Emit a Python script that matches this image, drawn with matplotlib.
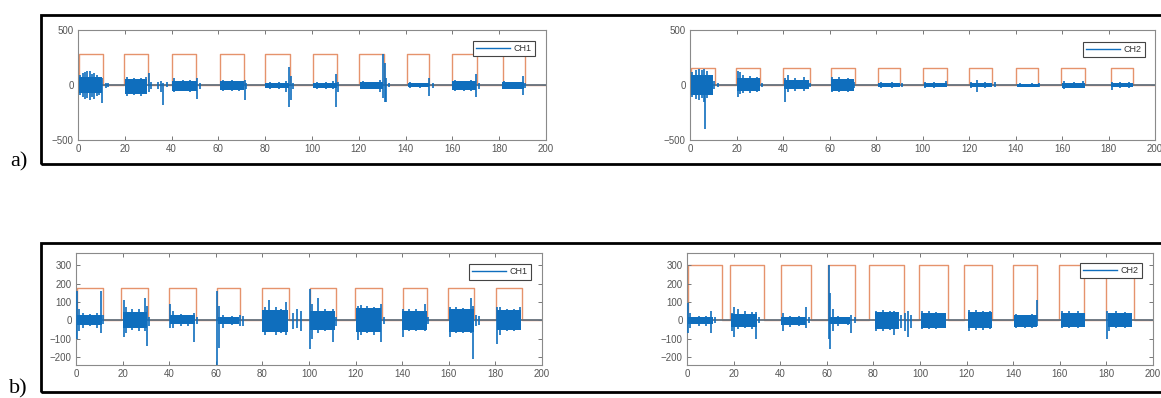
import matplotlib
matplotlib.use("Agg")
import matplotlib.pyplot as plt
from matplotlib.lines import Line2D
from matplotlib.patches import Rectangle

# ---------------- data ----------------
# a) CH1
a1_pulse_on = [0.5, 19.8, 40.0, 60.5, 80.0, 100.4, 120.2, 140.4, 160.0, 181.5]
a1_pulse_off = [10.5, 30.0, 50.3, 70.8, 90.4, 110.7, 130.6, 150.0, 170.3, 191.0]
a1_pulse_height = 280
a1_burst_start = [0.3, 20.0, 40.0, 60.5, 80.0, 100.5, 120.5, 141.0, 160.0, 181.0]
a1_burst_end = [10.3, 29.5, 51.0, 71.0, 90.0, 110.5, 130.5, 150.0, 170.0, 190.5]
a1_burst_hi = [70, 55, 40, 35, 22, 22, 25, 18, 35, 28]
a1_burst_lo = [-75, -80, -50, -45, -30, -30, -35, -22, -45, -35]
a1_spike_x = [1, 2, 3, 4, 5, 6, 7, 8, 9, 10.3, 12, 13,
              21, 24, 27, 29, 30.3, 31, 34, 35.5, 36.5, 38,
              41, 45, 48, 50.8, 52,
              62, 66, 69, 71.2, 72,
              82, 86, 89, 90.3, 91, 92,
              102, 106, 109, 110.3, 111.2,
              122, 126, 129, 130.3, 131, 131.8, 133,
              142, 146, 150, 151.5,
              161, 165, 168, 170.2, 171.5,
              182, 186, 190.2, 191.2]
a1_spike_hi = [90, 110, 120, 130, 125, 100, 110, 90, 70, 60, 20, 15,
               70, 60, 60, 70, 110, 30, 30, 40, 20, 25,
               60, 50, 50, 60, 20,
               50, 45, 40, 50, 20,
               30, 30, 40, 160, 80, 20,
               30, 25, 40, 100, 30,
               35, 30, 50, 280, 200, 60, 20,
               25, 20, 60, 20,
               45, 40, 45, 100, 20,
               35, 30, 80, 20]
a1_spike_lo = [-90, -110, -130, -120, -140, -110, -130, -100, -90, -160, -30, -15,
               -100, -90, -100, -80, -60, -40, -40, -60, -180, -20,
               -60, -55, -60, -130, -40,
               -50, -55, -50, -140, -40,
               -40, -35, -60, -200, -140, -40,
               -40, -35, -40, -200, -60,
               -40, -40, -60, -120, -150, -150, -20,
               -30, -25, -100, -30,
               -55, -50, -50, -110, -40,
               -40, -40, -90, -30]

# a) CH2
a2_pulse_on = [0.5, 19.9, 40.2, 60.6, 80.9, 100.3, 120.0, 140.4, 159.5, 181.0]
a2_pulse_off = [10.8, 30.2, 51.4, 70.9, 90.3, 110.7, 130.0, 149.6, 169.8, 190.5]
a2_pulse_height = 155
a2_burst_start = [0.3, 20.0, 40.5, 60.5, 81.0, 100.5, 120.5, 140.5, 160.0, 181.0]
a2_burst_end = [10.0, 30.0, 51.0, 70.5, 90.5, 110.5, 130.0, 150.0, 170.0, 190.5]
a2_burst_hi = [95, 65, 45, 55, 16, 18, 18, 11, 22, 18]
a2_burst_lo = [-95, -55, -40, -50, -18, -20, -22, -14, -25, -22]
a2_spike_x = [1, 2.5, 4, 5, 6, 6.6, 7.5, 9, 10.5, 12,
              20.5, 21.5, 23, 26, 29, 31,
              41, 42, 45, 49, 51.5,
              61, 64, 68, 70.5,
              82, 87, 91,
              101, 105, 110,
              121, 123.5, 127, 131,
              142, 147, 150,
              161, 165, 169,
              181.5, 185, 189]
a2_spike_hi = [120, 140, 150, 140, 150, 60, 130, 90, 40, 20,
               130, 120, 90, 80, 70, 20,
               60, 90, 60, 70, 20,
               70, 70, 65, 30,
               25, 25, 15,
               30, 25, 35,
               30, 50, 25, 30,
               18, 15, 20,
               35, 30, 35,
               30, 25, 25]
a2_spike_lo = [-110, -130, -140, -120, -150, -400, -120, -80, -40, -20,
               -110, -80, -70, -70, -60, -15,
               -150, -60, -50, -50, -20,
               -60, -65, -60, -30,
               -25, -25, -15,
               -30, -25, -20,
               -30, -60, -25, -15,
               -20, -18, -20,
               -35, -30, -30,
               -45, -25, -25]

# b) CH1
b1_pulse_on = [0.3, 19.5, 40.0, 60.6, 80.0, 100.5, 119.8, 140.2, 159.8, 180.2]
b1_pulse_off = [11.6, 31.0, 51.6, 70.2, 91.3, 111.6, 131.3, 150.6, 171.0, 191.6]
b1_pulse_height = 178
b1_burst_start = [0.5, 20.0, 40.5, 61.0, 80.0, 100.5, 120.0, 140.0, 160.0, 180.5]
b1_burst_end = [11.0, 30.5, 51.0, 70.0, 91.0, 111.0, 131.0, 150.5, 171.0, 191.0]
b1_burst_hi = [28, 45, 28, 18, 55, 50, 65, 50, 60, 55]
b1_burst_lo = [-28, -45, -22, -18, -65, -55, -65, -55, -65, -55]
b1_spike_x = [0.4, 1.2, 3, 6, 9, 10.7, 11.5,
              20.5, 21.5, 24, 27, 29.5, 30.3, 31.5,
              40.5, 41.5, 45, 48, 50.5, 52,
              60.5, 61.2, 63, 67, 70.5, 71.5,
              81, 83, 86, 88, 90.3, 93, 95, 96.5,
              100.3, 101.5, 104, 107, 110.3, 111.5,
              121, 122.5, 125, 128, 130.8, 132,
              140.5, 143, 146, 149.8, 151,
              160.5, 163, 166, 169.5, 170.4, 171.5, 173,
              180.5, 182, 185, 188, 190.5]
b1_spike_hi = [160, 60, 40, 35, 40, 160, 30,
               110, 70, 60, 60, 120, 80, 20,
               90, 50, 35, 30, 40, 15,
               160, 80, 30, 25, 30, 25,
               70, 110, 70, 60, 100, 40, 60, 50,
               170, 90, 120, 60, 60, 20,
               80, 85, 80, 70, 90, 20,
               60, 60, 60, 90, 20,
               70, 70, 65, 120, 80, 30, 25,
               70, 70, 60, 60, 70]
b1_spike_lo = [-100, -60, -40, -30, -40, -70, -20,
               -90, -70, -55, -60, -60, -140, -30,
               -40, -40, -30, -30, -120, -20,
               -245, -150, -40, -25, -30, -30,
               -80, -60, -80, -70, -80, -50, -40, -60,
               -160, -100, -70, -60, -120, -30,
               -110, -80, -70, -80, -120, -20,
               -90, -60, -60, -60, -20,
               -90, -70, -70, -70, -210, -30, -25,
               -130, -80, -60, -60, -40]

# b) CH2
b2_pulse_on = [0.3, 18.6, 40.2, 60.6, 78.0, 99.4, 119.0, 140.0, 159.6, 179.8]
b2_pulse_off = [15.2, 33.0, 53.2, 72.0, 93.3, 111.9, 130.9, 150.4, 170.6, 192.0]
b2_pulse_height = 300
b2_burst_start = [0.3, 19.0, 40.5, 61.0, 80.5, 100.5, 120.5, 140.5, 160.5, 180.5]
b2_burst_end = [11.0, 30.0, 51.0, 70.0, 91.0, 111.0, 131.0, 150.0, 171.0, 191.0]
b2_burst_hi = [18, 35, 18, 18, 45, 40, 45, 28, 40, 40]
b2_burst_lo = [-22, -35, -25, -22, -50, -40, -45, -35, -35, -35]
b2_spike_x = [0.4, 1.5, 5, 8, 10.5, 12,
              19.5, 20.3, 22, 25, 28, 29.5, 31,
              41, 44, 48, 51, 52.5,
              60.8, 61.3, 62.5, 65, 69, 70.3, 72,
              81, 84, 87, 89, 92, 93.5, 95, 96,
              101, 104, 107, 110,
              121, 124, 127, 130,
              141, 145, 148, 150.3,
              161, 164, 168, 170,
              180.2, 181, 184, 188, 190.5]
b2_spike_hi = [95, 40, 25, 25, 50, 15,
               40, 70, 60, 50, 45, 45, 15,
               40, 25, 25, 70, 15,
               300, 150, 60, 25, 20, 30, 15,
               50, 55, 50, 50, 30, 40, 50, 30,
               50, 50, 45, 40,
               55, 55, 50, 50,
               35, 30, 35, 110,
               50, 50, 50, 40,
               50, 40, 50, 45, 40]
b2_spike_lo = [-70, -40, -30, -30, -70, -15,
               -60, -90, -50, -45, -50, -100, -15,
               -60, -35, -30, -40, -15,
               -100, -160, -60, -30, -25, -70, -15,
               -60, -60, -55, -80, -40, -60, -90, -40,
               -50, -50, -50, -45,
               -60, -55, -55, -50,
               -40, -40, -40, -30,
               -45, -45, -45, -35,
               -105, -60, -40, -40, -30]

x_ticks = [0, 20, 40, 60, 80, 100, 120, 140, 160, 180, 200]
a_y_ticks = [-500, 0, 500]
b_y_ticks = [-200, -100, 0, 100, 200, 300]
a_ylim = (-500, 500)
b_ylim = (-245, 368)
x_lim = (0, 200)

panels = [
    dict(name="CH1", pos=(78, 30, 546, 140), ylim=a_ylim, yt=a_y_ticks,
         on=a1_pulse_on, off=a1_pulse_off, h=a1_pulse_height,
         bs=a1_burst_start, be=a1_burst_end, bh=a1_burst_hi, bl=a1_burst_lo,
         sx=a1_spike_x, sh=a1_spike_hi, sl=a1_spike_lo, leg=(0.976, 0.90)),
    dict(name="CH2", pos=(690, 30, 1155, 140), ylim=a_ylim, yt=a_y_ticks,
         on=a2_pulse_on, off=a2_pulse_off, h=a2_pulse_height,
         bs=a2_burst_start, be=a2_burst_end, bh=a2_burst_hi, bl=a2_burst_lo,
         sx=a2_spike_x, sh=a2_spike_hi, sl=a2_spike_lo, leg=(0.978, 0.89)),
    dict(name="CH1", pos=(76, 253, 542, 365), ylim=b_ylim, yt=b_y_ticks,
         on=b1_pulse_on, off=b1_pulse_off, h=b1_pulse_height,
         bs=b1_burst_start, be=b1_burst_end, bh=b1_burst_hi, bl=b1_burst_lo,
         sx=b1_spike_x, sh=b1_spike_hi, sl=b1_spike_lo, leg=(0.976, 0.90)),
    dict(name="CH2", pos=(687, 253, 1153, 365), ylim=b_ylim, yt=b_y_ticks,
         on=b2_pulse_on, off=b2_pulse_off, h=b2_pulse_height,
         bs=b2_burst_start, be=b2_burst_end, bh=b2_burst_hi, bl=b2_burst_lo,
         sx=b2_spike_x, sh=b2_spike_hi, sl=b2_spike_lo, leg=(0.976, 0.91)),
]

W, H = 1161, 398
BLUE = "#0f6ebd"
ORANGE = "#e3875c"
BASE = "#66727e"

fig = plt.figure(figsize=(W / 100, H / 100), dpi=100)

for p in panels:
    x0, y0, x1, y1 = p["pos"]
    ax = fig.add_axes([x0 / W, 1 - y1 / H, (x1 - x0) / W, (y1 - y0) / H])
    # trigger square wave
    sq_x, sq_y = [x_lim[0]], [0]
    for on, off in zip(p["on"], p["off"]):
        sq_x += [on, on, off, off]
        sq_y += [0, p["h"], p["h"], 0]
    sq_x.append(x_lim[1]); sq_y.append(0)
    ax.plot(sq_x, sq_y, color=ORANGE, lw=1.0, alpha=0.9, zorder=1)
    # baseline of signal
    ax.axhline(0, color=BASE, lw=1.3, zorder=2)
    # burst bodies
    for s, e, hi, lo in zip(p["bs"], p["be"], p["bh"], p["bl"]):
        ax.fill_between([s, e], [lo, lo], [hi, hi], color=BLUE, lw=0, zorder=3)
    # spikes
    ax.vlines(p["sx"], p["sl"], p["sh"], color=BLUE, lw=1.2, zorder=4)

    ax.set_xlim(*x_lim)
    ax.set_ylim(*p["ylim"])
    ax.set_xticks(x_ticks)
    ax.set_yticks(p["yt"])
    ax.tick_params(direction="in", length=3, width=0.7, colors="#777777",
                   labelcolor="#555555", labelsize=7, top=True, right=True, pad=3)
    for lab in ax.get_xticklabels() + ax.get_yticklabels():
        lab.set_family("Liberation Sans")
    for sp in ax.spines.values():
        sp.set_color("#8a8a8a")
        sp.set_linewidth(0.8)
    leg = ax.legend(handles=[Line2D([], [], color=BLUE, lw=1.0)], labels=[p["name"]],
                    loc="upper right", bbox_to_anchor=p["leg"], borderaxespad=0,
                    fancybox=False, framealpha=1, edgecolor="#444444",
                    handlelength=3.8, handletextpad=0.4, borderpad=0.35,
                    prop={"family": "Liberation Sans", "size": 6.5})
    leg.get_frame().set_linewidth(0.8)
    for t in leg.get_texts():
        t.set_color("#333333")

# outer frames
for top, bottom in [(15, 164), (243, 392)]:
    fig.add_artist(Rectangle((41 / W, 1 - bottom / H), 1.2, (bottom - top) / H,
                             transform=fig.transFigure, fill=False, ec="black",
                             lw=2.0, clip_on=False))

fig.text(10 / W, 1 - 166 / H, "a)", family="Liberation Serif", fontsize=16,
         va="baseline", ha="left")
fig.text(9 / W, 1 - 393 / H, "b)", family="Liberation Serif", fontsize=16,
         va="baseline", ha="left")

fig.savefig("out.png", dpi=100)
